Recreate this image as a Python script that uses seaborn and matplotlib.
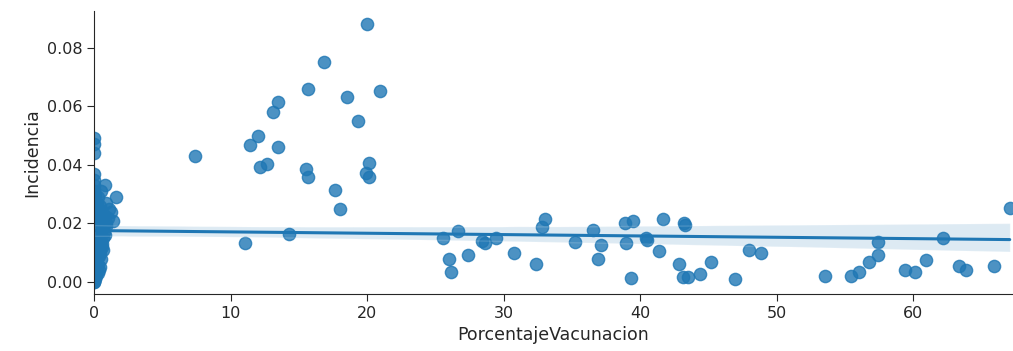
import numpy as np
import pandas as pd
import matplotlib
matplotlib.use("Agg")
import matplotlib.pyplot as plt
import seaborn as sns

# values
# dense column of points sitting right on 0 % vaccination
inc_at_zero = [0.049, 0.047, 0.044, 0.037, 0.035, 0.033, 0.031, 0.030, 0.029, 0.028,
               0.027, 0.026, 0.026, 0.025, 0.024, 0.023, 0.023, 0.022, 0.021, 0.021,
               0.020, 0.020, 0.019, 0.019, 0.018, 0.018, 0.017, 0.017, 0.016, 0.016,
               0.015, 0.015, 0.015, 0.014, 0.014, 0.013, 0.013, 0.013, 0.012, 0.012,
               0.011, 0.011, 0.011, 0.010, 0.010, 0.009, 0.009, 0.009, 0.008, 0.008,
               0.007, 0.007, 0.006, 0.006, 0.005, 0.005, 0.004, 0.004, 0.003, 0.003,
               0.002, 0.002, 0.001, 0.001, 0.000, 0.000, 0.0005, 0.0015, 0.0025, 0.0035,
               0.0125, 0.0135, 0.0145, 0.0155, 0.0165, 0.0175, 0.0185, 0.0195, 0.0205, 0.0215,
               0.0125, 0.0135, 0.0145, 0.0115, 0.0105, 0.0095, 0.0085, 0.0075, 0.0065, 0.0055,
               0.0062, 0.0048, 0.0071, 0.0039, 0.0083, 0.0027, 0.0056, 0.0068, 0.0044, 0.0052]

# early points just right of zero (0-1.6 %)
vac_early = [0.8, 0.5, 1.6, 0.3, 0.9, 0.4, 1.1, 0.2, 0.7, 1.4,
             0.3, 0.9, 0.1, 0.6, 0.3, 0.8, 0.1, 0.5, 0.6, 0.2,
             0.45, 0.1, 0.5, 0.3, 0.1, 0.35, 0.15, 0.05, 0.2, 0.05,
             0.25, 0.4, 0.55, 0.7, 0.15, 0.35, 0.65, 0.2, 0.4, 0.1,
             0.25, 0.3, 0.75, 1.0, 1.2, 0.45, 0.6, 0.15, 0.35, 0.55,
             0.05, 0.2, 0.4, 0.85, 0.3, 0.5, 0.1, 0.25, 0.65, 0.05]
inc_early = [0.033, 0.031, 0.029, 0.029, 0.027, 0.026, 0.025, 0.024, 0.023, 0.021,
             0.021, 0.020, 0.019, 0.018, 0.017, 0.016, 0.015, 0.014, 0.012, 0.012,
             0.010, 0.009, 0.008, 0.006, 0.005, 0.004, 0.002, 0.001, 0.027, 0.030,
             0.013, 0.016, 0.019, 0.020, 0.011, 0.014, 0.015, 0.008, 0.011, 0.007,
             0.003, 0.010, 0.017, 0.022, 0.024, 0.018, 0.022, 0.016, 0.009, 0.013,
             0.012, 0.006, 0.005, 0.019, 0.025, 0.021, 0.023, 0.018, 0.011, 0.004]

# middle group (7-21 %)
vac_mid = [7.39, 11.05, 11.42, 11.98, 12.15, 12.64, 13.08, 13.49, 13.47, 14.30,
           15.64, 15.52, 15.64, 16.86, 17.64, 18.01, 18.50, 19.33, 20.01, 20.15,
           19.91, 20.15, 20.94]
inc_mid = [0.0430, 0.0132, 0.0468, 0.0499, 0.0394, 0.0403, 0.0579, 0.0613, 0.0462,
           0.0164, 0.0659, 0.0386, 0.0359, 0.0752, 0.0314, 0.0250, 0.0630, 0.0549,
           0.0881, 0.0405, 0.0372, 0.0359, 0.0652]

# high vaccination group (25 % +)
vac_high = [25.57, 26.01, 26.11, 26.67, 27.36, 28.43, 28.6, 29.43, 30.75, 32.34,
            32.77, 33.04, 35.21, 36.55, 37.12, 36.87, 38.87, 39.48, 38.92, 39.29,
            40.41, 40.5, 41.34, 41.63, 42.85, 43.23, 43.27, 43.14, 43.46, 44.36,
            45.17, 46.93, 47.97, 48.83, 53.54, 55.47, 56.02, 56.73, 57.42, 57.42,
            59.42, 60.15, 60.91, 62.17, 63.32, 63.89, 65.91, 67.06]
inc_high = [0.0149, 0.0078, 0.0035, 0.0175, 0.0092, 0.0140, 0.0135, 0.0149, 0.0100,
            0.0061, 0.0189, 0.0215, 0.0138, 0.0177, 0.0126, 0.0078, 0.0200, 0.0208,
            0.0135, 0.0015, 0.0149, 0.0142, 0.0107, 0.0214, 0.0061, 0.0201, 0.0195,
            0.0016, 0.0016, 0.0027, 0.0067, 0.0010, 0.0111, 0.0098, 0.0022, 0.0022,
            0.0035, 0.0067, 0.0092, 0.0138, 0.0043, 0.0035, 0.0075, 0.0151, 0.0056,
            0.0043, 0.0056, 0.0252]

data = pd.DataFrame({
    "PorcentajeVacunacion": [0.0] * len(inc_at_zero) + vac_early + vac_mid + vac_high,
    "Incidencia": inc_at_zero + inc_early + inc_mid + inc_high,
})

sns.set_style("ticks")
fig, ax = plt.subplots(figsize=(10.13, 3.51), dpi=100)
fig.subplots_adjust(left=0.093, right=1.0, bottom=0.162, top=0.968)

sns.regplot(x="PorcentajeVacunacion", y="Incidencia", data=data, ax=ax,
            color="#1f77b4", seed=0, scatter_kws={"s": 78},
            line_kws={"linewidth": 2.2})
sns.despine()

ax.set_xlim(0, 67.3)
ax.set_ylim(-0.0041, 0.0924)
ax.set_yticks([0.0, 0.02, 0.04, 0.06, 0.08])
ax.set_xticks([0, 10, 20, 30, 40, 50, 60])
ax.tick_params(labelsize=11.5, length=5)
ax.set_xlabel("PorcentajeVacunacion", fontsize=12.5)
ax.set_ylabel("Incidencia", fontsize=12.5)

plt.savefig("out.png", dpi=100)
